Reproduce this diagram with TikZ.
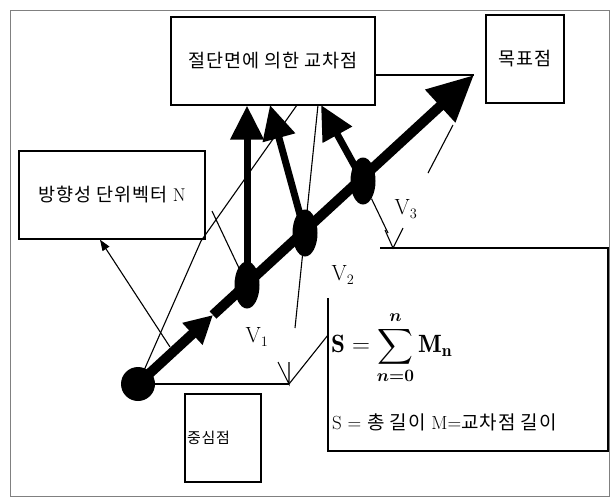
\documentclass[tikz,border=0pt]{standalone}
\usepackage{amsmath}
\usepackage{fontspec}
\newfontfamily\krfont[LetterSpace=5]{Noto Sans CJK KR}
\usetikzlibrary{arrows.meta,shapes.geometric}

\begin{document}
\begin{tikzpicture}[
  x=1pt, y=-1pt,
  box/.style={
    rectangle, draw, line width=1.3pt, inner sep=0pt, align=center,
    font=\fontsize{18.5}{22}\selectfont
  },
  cdot/.style={circle, fill, inner sep=0pt, minimum size=34pt},
  vdot/.style={ellipse, fill, inner sep=0pt, minimum width=25pt, minimum height=47pt},
  thinln/.style={line width=1.1pt},
  thinarr/.style={-{Triangle[length=11pt,width=8pt]}, line width=1.1pt},
  mainarr/.style={-{Triangle[length=46pt,width=42pt]}, line width=10pt},
  midarr/.style={-{Triangle[length=28pt,width=28pt]}, line width=10pt},
  uparr/.style={-{Triangle[length=34pt,width=32pt]}, line width=7pt},
  lbl/.style={inner sep=0pt, font=\fontsize{22}{26}\selectfont},
]
  \useasboundingbox (0,0) rectangle (612,498);
  \draw[gray, line width=1pt] (10,10) rectangle (609,496);

  % Boxes
  \node[box, minimum width=204pt, minimum height=88pt] (cross) at (273,61) {\krfont 절단면에 의한 교차점};
  \node[box, minimum width=78pt, minimum height=88pt] (goal) at (525,59) {\krfont 목표점};
  \node[box, minimum width=186pt, minimum height=88pt] (dir) at (112,195) {{\krfont 방향성 단위벡터} N};
  \node[box, minimum width=76pt, minimum height=88pt, text width=72pt, align=left,
    font=\fontsize{15}{18}\selectfont] (origin) at (223,438) {\krfont 중심점};

  % Points on the vector
  \node[cdot] (c) at (138,384) {};
  \node[vdot] (v1) at (247,285) {};
  \node[vdot] (v2) at (305,233) {};
  \node[vdot] (v3) at (363,181) {};
  \coordinate (mid) at (213,315);
  \coordinate (tip) at (474,75);

  % Main vector
  \draw[midarr] (c.center) -- (mid);
  \draw[mainarr] (mid) -- (tip);
  \draw[thinln] (cross.east |- tip) -- (tip);

  % Intersections
  \coordinate (a2) at (270,105);
  \coordinate (a3) at (321,105);
  \draw[uparr] (v1.center) -- (v1.center |- cross.south);
  \draw[uparr] (v2.center) -- (a2);
  \draw[uparr] (v3.center) -- (a3);

  % Thin guide lines
  \coordinate (bend) at (201,241);
  \coordinate (d1) at (297,105);
  \draw[thinln] (c.center) -- (bend) -- (d1);
  \draw[thinln] (212,211) -- (v1.center);
  \draw[thinln] (318,105) -- (295,328);
  \draw[thinarr] (170,347) -- ([xshift=-12pt]dir.south);
  \draw[thinln] (428,173) -- (453,125);

  % Length marks
  \coordinate (v0) at (289,384);
  \coordinate (w0) at (393,248);
  \draw[thinln] (c.center) -- (v0);
  \draw[thinln] (v0) ++(-11,-22) -- (v0) -- ++(0,-22);
  \draw[thinln] (328,335) -- (v0);
  \draw[thinln] (v3) -- (388,233);
  \draw[thinln] (w0) ++(-8,-18) -- (w0) -- ++(10,-20);

  % Formula box
  \draw[line width=1.5pt] (380,248) -- (608,248) -- (608,451) -- (328,451) -- (328,298);
  \node[anchor=west, inner sep=0pt, font=\fontsize{25}{30}\selectfont] (sum) at (331,348)
    {$\mathbf{S} = \displaystyle\sum_{\boldsymbol{n=0}}^{\boldsymbol{n}} \mathbf{M_n}$};
  \node[anchor=west, inner sep=0pt, font=\fontsize{19}{22}\selectfont] (legend) at (332,422)
    {S = {\krfont 총 길이} M={\krfont 교차점 길이}};

  % Labels
  \node[lbl] (l1) at (257,337) {V$_1$};
  \node[lbl] (l2) at (343,275) {V$_2$};
  \node[lbl] (l3) at (406,209) {V$_3$};
\end{tikzpicture}
\end{document}
